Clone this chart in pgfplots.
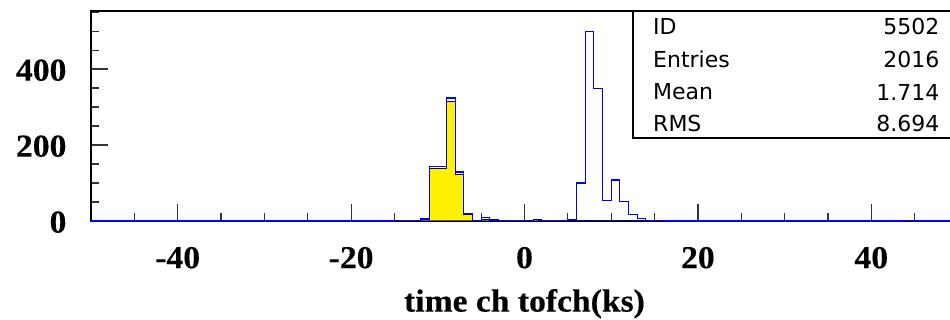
\documentclass[border=0pt]{standalone}
\usepackage{pgfplots}
\usepackage{pgfplotstable}
\pgfplotsset{compat=1.18}
\usepackage{fontspec}
\setmainfont{Liberation Serif}
\newfontfamily\labfont{Liberation Serif}[FakeStretch=1.05, FakeBold=0.3]
\newfontfamily\statfont{DejaVu Sans}

\pgfplotstableread{
x y
-50 0
-15 1
-14 2
-13 2
-12 5
-11 143
-10 143
-9 324
-8 129
-7 20
-6 2
-5 10
-4 3
-3 2
-2 1
-1 1
0 2
1 4
2 2
3 2
4 1
5 3
6 100
7 500
8 349
9 53
10 108
11 51
12 18
13 7
14 2
15 1
16 0
44 1
45 0
49 2
50 2
}\bluedata

\pgfplotstableread{
x y
-50 0
-13 1
-12 3
-11 139
-10 139
-9 314
-8 122
-7 16
-6 0
-5 4
-4 0
1 3
2 0
49 2
50 2
}\yellowdata

\begin{document}
\begin{tikzpicture}
\begin{axis}[
  scale only axis, width=433.5pt, height=105pt,
  xmin=-50, xmax=50, ymin=0, ymax=553,
  clip=false,
  axis line style={line width=1pt},
  xtick={-60,-40,...,60}, minor x tick num=3,
  ytick={0,200,...,600}, minor y tick num=3,
  tick align=inside, xtick pos=bottom, ytick pos=left,
  major tick length=8.5pt, minor tick length=4pt,
  tick style={black!80, line width=0.6pt},
  xticklabel={\pgfmathparse{int(\tick)}\pgfmathresult},
  yticklabel={\pgfmathparse{int(\tick)}\pgfmathresult},
  ticklabel style={font=\labfont\fontsize{16}{19}\selectfont\bfseries, inner sep=0pt},
  xticklabel style={anchor=base, yshift=-23.6pt},
  yticklabel style={anchor=base east, yshift=-5.8pt, xshift=-12.1pt},
  xlabel={time ch tofch(ks)},
  xlabel style={font=\labfont\fontsize{16}{19}\selectfont\bfseries, inner sep=0pt, at={(axis description cs:0.5,0)}, anchor=base, yshift=-45.3pt},
]
\addplot[const plot mark left, fill=yellow, draw=blue!70!black, line width=0.5pt] table[x=x,y=y] {\yellowdata} \closedcycle;
\addplot[const plot mark left, draw=blue, line width=0.6pt] table[x=x,y=y] {\bluedata};
\coordinate (sw) at (rel axis cs:0,0);
\draw[line width=0.8pt] (rel axis cs:0.625,1) -- (rel axis cs:0.625,0.395) -- (rel axis cs:1.05,0.395);
\begin{scope}[every node/.style={inner sep=0pt, font=\statfont\fontsize{11}{13}\selectfont}]
\node[anchor=west] at (rel axis cs:0.648,0.924) {ID};
\node[anchor=east] at (rel axis cs:0.979,0.924) {5502};
\node[anchor=west] at (rel axis cs:0.648,0.771) {Entries};
\node[anchor=east] at (rel axis cs:0.979,0.771) {2016};
\node[anchor=west] at (rel axis cs:0.648,0.614) {Mean};
\node[anchor=east] at (rel axis cs:0.979,0.614) {1.714};
\node[anchor=west] at (rel axis cs:0.648,0.462) {RMS};
\node[anchor=east] at (rel axis cs:0.979,0.462) {8.694};
\end{scope}
\end{axis}
\pgfresetboundingbox
\path[use as bounding box] ([shift={(-45.5pt,-49.5pt)}]sw) rectangle ([shift={(429.5pt,110.5pt)}]sw);
\end{tikzpicture}
\end{document}
